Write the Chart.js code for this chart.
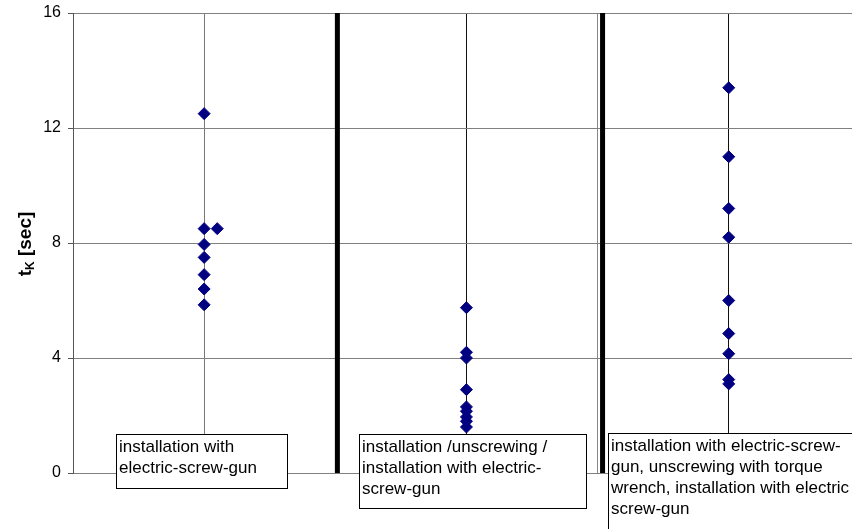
<!DOCTYPE html>
<html>
<head>
<meta charset="utf-8">
<script src="https://cdn.jsdelivr.net/npm/chart.js@4/dist/chart.umd.min.js"></script>
<style>
    body { margin: 0; background: #fff; }
    #wrap { width: 852px; height: 529px; }
</style>
</head>
<body>
<div id="wrap"><canvas id="chart"></canvas></div>
<script>
// values
const group1X = [0.5, 0.5, 0.55, 0.5, 0.5, 0.5, 0.5, 0.5];
const group1Values = [12.5, 8.5, 8.5, 7.95, 7.5, 6.9, 6.4, 5.85];
const group2X = [1.5, 1.5, 1.5, 1.5, 1.5, 1.5, 1.5, 1.5, 1.5];
const group2Values = [5.75, 4.2, 4.0, 2.9, 2.3, 2.15, 1.95, 1.8, 1.6];
const group3X = [2.5, 2.5, 2.5, 2.5, 2.5, 2.5, 2.5, 2.5, 2.5];
const group3Values = [13.4, 11.0, 9.2, 8.2, 6.0, 4.85, 4.15, 3.25, 3.1];
const separatorX = [1.008, 2.019];
const yTicks = [0, 4, 8, 12, 16];
const groupLabels = [
    ['installation with', 'electric-screw-gun'],
    ['installation /unscrewing /', 'installation with electric-', 'screw-gun'],
    ['installation with electric-screw-', 'gun, unscrewing with torque', 'wrench, installation with electric', 'screw-gun']
];

const FONT = "'Liberation Sans', Arial, sans-serif";

function toPoints(xs, ys) {
    return ys.map((y, i) => ({ x: xs[i], y: y }));
}

const pointStyle = {
    showLine: false,
    pointStyle: 'rectRot',
    pointRadius: 6,
    pointHoverRadius: 6,
    backgroundColor: '#000080',
    borderColor: '#000080',
    borderWidth: 1
};

const separators = separatorX.map(x => ({
    type: 'line',
    data: [{ x: x, y: yTicks[0] }, { x: x, y: yTicks[yTicks.length - 1] }],
    borderColor: '#000',
    borderWidth: 5,
    pointRadius: 0,
    order: 2
}));

// boxes: [left, top, right, bottom] in pixels
const boxRects = [
    [116, 434, 287, 488],
    [359, 434, 586, 508],
    [608, 433, 860, 540]
];

const labelBoxes = {
    id: 'labelBoxes',
    afterDraw(chart) {
        const ctx = chart.ctx;
        ctx.save();
        ctx.font = '17px ' + FONT;
        ctx.textBaseline = 'alphabetic';
        boxRects.forEach((r, i) => {
            ctx.fillStyle = '#fff';
            ctx.fillRect(r[0], r[1], r[2] - r[0], r[3] - r[1]);
            ctx.strokeStyle = '#000';
            ctx.lineWidth = 1;
            ctx.strokeRect(r[0] + 0.5, r[1] + 0.5, r[2] - r[0], r[3] - r[1]);
            ctx.fillStyle = '#000';
            groupLabels[i].forEach((line, j) => {
                ctx.fillText(line, r[0] + 3, r[1] + 18 + j * 21);
            });
        });

        // y axis title t_K [sec]
        ctx.translate(31, 244);
        ctx.rotate(-Math.PI / 2);
        const big = 'bold 19px ' + FONT;
        const small = 'bold 12px ' + FONT;
        ctx.font = big;
        const wT = ctx.measureText('t').width;
        const wRest = ctx.measureText(' [sec]').width;
        ctx.font = small;
        const wK = ctx.measureText('K').width;
        let x = -(wT + wK + wRest) / 2;
        ctx.font = big;
        ctx.fillText('t', x, 0);
        x += wT;
        ctx.font = small;
        ctx.fillText('K', x, 3);
        x += wK;
        ctx.font = big;
        ctx.fillText(' [sec]', x, 0);
        ctx.restore();
    }
};

new Chart(document.getElementById('chart'), {
    type: 'scatter',
    data: {
        datasets: [
            { label: 'group 1', data: toPoints(group1X, group1Values), ...pointStyle, order: 1 },
            { label: 'group 2', data: toPoints(group2X, group2Values), ...pointStyle, order: 1 },
            { label: 'group 3', data: toPoints(group3X, group3Values), ...pointStyle, order: 1 },
            ...separators
        ]
    },
    options: {
        responsive: true,
        maintainAspectRatio: false,
        animation: false,
        layout: { autoPadding: false, padding: { top: 13, bottom: 56, left: 0, right: 0 } },
        plugins: {
            legend: { display: false },
            tooltip: { enabled: false }
        },
        scales: {
            x: {
                type: 'linear',
                min: 0,
                max: 2.97,
                ticks: { display: false, stepSize: 0.5 },
                border: { display: false },
                grid: {
                    drawTicks: false,
                    lineWidth: 1,
                    color: ctx => {
                        const v = ctx.tick ? ctx.tick.value : null;
                        if (v === 0.5) return '#777';
                        if (v === 1.5 || v === 2.5) return '#111';
                        if (v === 1 || v === 2) return '#888';
                        return 'rgba(0,0,0,0)';
                    }
                },
                afterFit: s => { s.height = 0; s.paddingLeft = 0; s.paddingRight = 0; }
            },
            y: {
                min: 0,
                max: 16,
                afterBuildTicks: s => { s.ticks = yTicks.map(v => ({ value: v })); },
                ticks: {
                    color: '#000',
                    padding: 7,
                    font: { family: FONT, size: 16 }
                },
                border: { display: true, color: '#555', width: 1 },
                grid: {
                    color: '#808080',
                    lineWidth: 1,
                    tickLength: 5,
                    tickColor: '#555'
                },
                afterFit: s => { s.width = 73; s.paddingTop = 0; s.paddingBottom = 0; }
            }
        }
    },
    plugins: [labelBoxes]
});
</script>
</body>
</html>
